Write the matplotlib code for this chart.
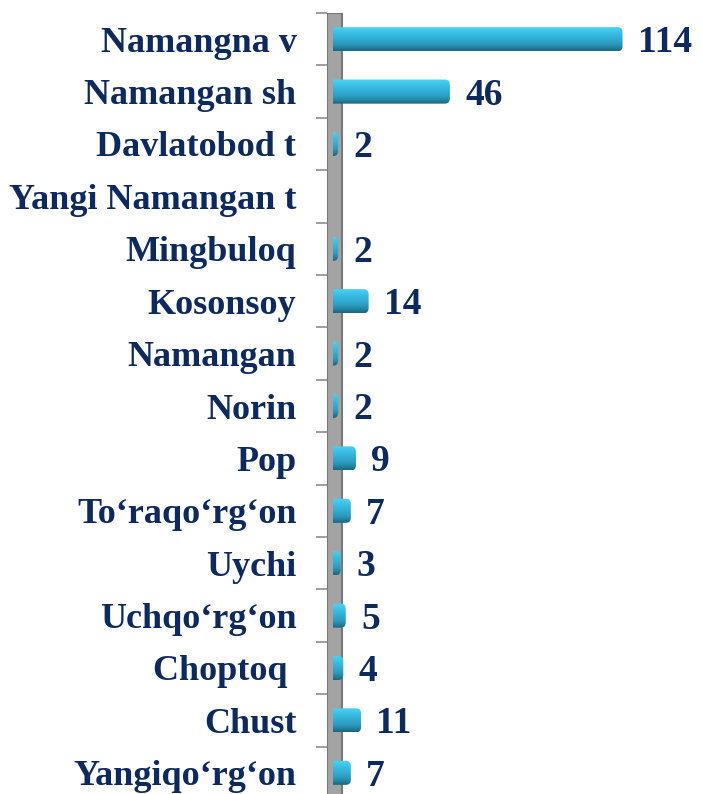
import numpy as np
import matplotlib
matplotlib.use("Agg")
import matplotlib.pyplot as plt
from matplotlib.patches import FancyBboxPatch, Rectangle
from matplotlib.colors import LinearSegmentedColormap

categories = ["Namangna v", "Namangan sh", "Davlatobod t", "Yangi Namangan t",
              "Mingbuloq", "Kosonsoy", "Namangan", "Norin", "Pop",
              "To‘raqo‘rg‘on", "Uychi", "Uchqo‘rg‘on", "Choptoq ", "Chust",
              "Yangiqo‘rg‘on"]
values = [114, 46, 2, None, 2, 14, 2, 2, 9, 7, 3, 5, 4, 11, 7]

navy = "#0c2a60"
font = {"family": ["Liberation Serif", "DejaVu Serif"], "weight": "bold"}

fig = plt.figure(figsize=(7.03, 7.94), dpi=100)
ax = fig.add_axes([327 / 703, -5 / 794, 376 / 703, 786 / 794])

n = len(categories)
ax.set_xlim(-2.4, 145.7)
ax.set_ylim(n - 0.5, -0.5)

# grey "wall" behind bars
ax.add_patch(Rectangle((-2.4, -0.5), 5.9, n, facecolor="#a3a3a3",
                       edgecolor="#787878", lw=1.5, zorder=1))

cmap = LinearSegmentedColormap.from_list(
    "bar", ["#4dd4f4", "#3bc0e6", "#31add3", "#2996b9", "#1b6680"])
grad = np.linspace(0, 1, 64).reshape(-1, 1)
h = 0.46
for i, v in enumerate(values):
    if not v:
        continue
    clip = FancyBboxPatch((-3, i - h / 2), v + 3, h,
                          boxstyle="round,pad=0,rounding_size=2",
                          mutation_aspect=0.05, transform=ax.transData,
                          facecolor="none", edgecolor="none")
    ax.add_patch(clip)
    im = ax.imshow(grad, cmap=cmap, aspect="auto", extent=[0, v, i + h / 2, i - h / 2],
                   origin="upper", interpolation="bicubic", zorder=3)
    im.set_clip_path(clip)
    ax.annotate(str(v), (v, i), xytext=(11, -2.5), textcoords="offset points",
                va="center", ha="left", fontsize=27, color=navy, **font)

ax.set_yticks(range(n))
ax.set_yticklabels(categories, fontsize=26, color=navy, **font)
ax.tick_params(axis="y", which="major", length=0, pad=22)
ax.set_yticks(np.arange(n + 1) - 0.5, minor=True)
ax.tick_params(axis="y", which="minor", length=8, width=1.2, color="#8c8c8c")
ax.set_xticks([])
for s in ax.spines.values():
    s.set_visible(False)

fig.savefig("out.png", dpi=100)
